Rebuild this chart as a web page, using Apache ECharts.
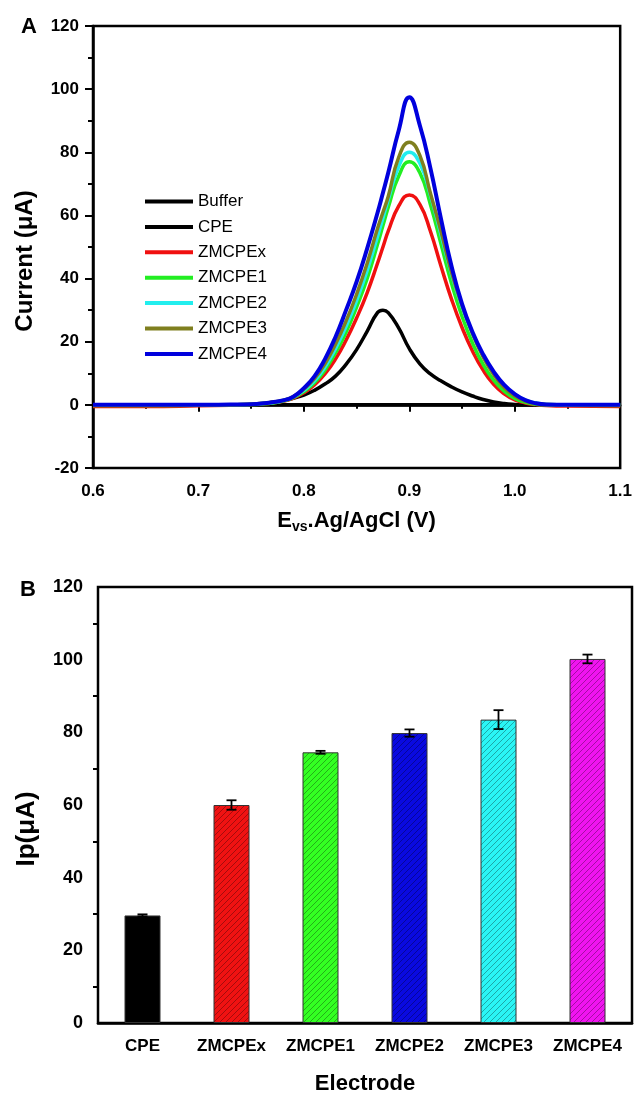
<!DOCTYPE html>
<html>
<head>
<meta charset="utf-8">
<script src="https://cdn.jsdelivr.net/npm/echarts@6/dist/echarts.min.js"></script>
<style>
  html, body { margin: 0; padding: 0; background: #fff; }
  #main { width: 635px; height: 1096px; }
</style>
</head>
<body>
<div id="main"></div>
<script>
// panel A: potential (V) and current (uA)
var potential = [0.60, 0.65, 0.70, 0.73, 0.75, 0.76, 0.77, 0.78, 0.79, 0.80, 0.81, 0.82, 0.83, 0.84, 0.85, 0.86, 0.87, 0.875, 0.88, 0.89, 0.90, 0.91, 0.92, 0.93, 0.94, 0.95, 0.96, 0.97, 0.98, 0.99, 1.00, 1.01, 1.02, 1.03, 1.05, 1.10];
var buffer  = [0, 0, 0, 0, 0, 0, 0, 0, 0, 0, 0, 0, 0, 0, 0, 0, 0, 0, 0, 0, 0, 0, 0, 0, 0, 0, 0, 0, 0, 0, 0, 0, 0, 0, 0, 0];
var cpe     = [0, 0, 0, 0, 0.2, 0.4, 0.8, 1.3, 2.1, 3.1, 4.6, 6.6, 9.1, 12.8, 17.5, 23.3, 29.3, 30.0, 29.2, 24.3, 17.8, 13, 9.8, 7.6, 5.7, 4.1, 2.8, 1.7, 0.9, 0.4, 0.15, 0.05, 0, 0, 0, 0];
var zmcpex  = [-0.5, -0.5, -0.3, -0.1, 0.1, 0.3, 0.6, 1.1, 2.1, 3.8, 6.3, 9.8, 14.5, 20.5, 27.5, 35.5, 45, 50, 55, 63, 66.5, 63.5, 55, 44, 33.5, 24.5, 17, 11, 6.5, 3.5, 1.6, 0.6, 0.1, -0.2, -0.4, -0.5];
var zmcpe1  = [-0.2, -0.2, -0.1, 0, 0.1, 0.3, 0.6, 1.2, 2.3, 4.2, 7, 11, 16.5, 23, 31, 40, 51, 56.8, 62.5, 72.5, 77, 73.5, 63.5, 51, 38.5, 28, 19.5, 12.8, 7.8, 4.3, 2, 0.8, 0.2, 0, -0.1, -0.2];
var zmcpe2  = [0, 0, 0, 0, 0.2, 0.4, 0.7, 1.3, 2.5, 4.6, 7.6, 12, 17.8, 24.8, 33, 42.5, 53.5, 59.2, 65, 75.5, 80, 76.5, 66.5, 54, 41.5, 31, 22.5, 15.5, 10.2, 6.1, 3.3, 1.5, 0.6, 0.15, 0, 0];
var zmcpe3  = [0, 0, 0, 0, 0.2, 0.4, 0.8, 1.4, 2.6, 5, 8.3, 13, 19.2, 26.5, 35, 44.8, 56, 61, 66, 78.5, 83.2, 79, 67, 55, 42, 31.5, 22.5, 15.2, 9.6, 5.5, 2.8, 1.2, 0.4, 0.1, 0, 0];
var zmcpe4  = [0, 0, 0, 0.1, 0.2, 0.4, 0.8, 1.4, 2.6, 5.3, 9, 14.5, 21.5, 30, 39, 49.5, 61, 67.2, 73.5, 87, 97.4, 88.5, 75, 59, 44, 32, 23, 16, 10.5, 6.3, 3.4, 1.5, 0.5, 0.1, 0, 0];

var curveNames = ['Buffer', 'CPE', 'ZMCPEx', 'ZMCPE1', 'ZMCPE2', 'ZMCPE3', 'ZMCPE4'];
var curveValues = [buffer, cpe, zmcpex, zmcpe1, zmcpe2, zmcpe3, zmcpe4];
var curveColors = ['#000000', '#000000', '#f01010', '#22ee22', '#22eeee', '#7f7f1f', '#0000dd'];

// panel B: peak current per electrode
var electrodes  = ['CPE', 'ZMCPEx', 'ZMCPE1', 'ZMCPE2', 'ZMCPE3', 'ZMCPE4'];
var peakCurrent = [29.6, 60.0, 74.5, 79.8, 83.5, 100.2];
var peakError   = [0.3, 1.3, 0.4, 1.0, 2.6, 1.2];
var barColors   = ['#000000', '#f01212', '#33ff22', '#0a0ae0', '#2af5f5', '#f014f0'];

var FONT = '"Liberation Sans", Arial, sans-serif';

// diagonal hatch fill like the original bars
function hatch(color) {
    var s = 6;
    var c = document.createElement('canvas');
    c.width = s; c.height = s;
    var ctx = c.getContext('2d');
    ctx.fillStyle = color;
    ctx.fillRect(0, 0, s, s);
    ctx.strokeStyle = 'rgba(0,0,0,0.45)';
    ctx.lineWidth = 0.7;
    ctx.beginPath();
    ctx.moveTo(0, s); ctx.lineTo(s, 0);
    ctx.moveTo(-1, 1); ctx.lineTo(1, -1);
    ctx.moveTo(s - 1, s + 1); ctx.lineTo(s + 1, s - 1);
    ctx.stroke();
    return { image: c, repeat: 'repeat' };
}

var myChart = echarts.init(document.getElementById('main'), null, { renderer: 'canvas' });

var tickLabel = { color: '#000', fontWeight: 'bold', fontFamily: FONT };
var axisLineStyle = { lineStyle: { color: '#000', width: 2.5 } };

var lineSeries = curveNames.map(function (name, i) {
    return {
        name: name,
        type: 'line',
        xAxisIndex: 0,
        yAxisIndex: 0,
        showSymbol: false,
        symbol: 'none',
        smooth: 0.5,
        clip: true,
        z: 2 + i,
        lineStyle: { color: curveColors[i], width: i === 6 ? 4 : 3.5 },
        itemStyle: { color: curveColors[i] },
        data: potential.map(function (v, k) { return [v, curveValues[i][k]]; })
    };
});

var barData = electrodes.map(function (name, i) {
    return {
        value: peakCurrent[i],
        itemStyle: { color: hatch(barColors[i]), borderColor: '#333', borderWidth: 1 }
    };
});

var errorData = electrodes.map(function (name, i) {
    return [i, peakCurrent[i] - peakError[i], peakCurrent[i] + peakError[i]];
});

var option = {
    animation: false,
    backgroundColor: '#fff',
    textStyle: { fontFamily: FONT },
    legend: {
        data: curveNames.map(function (n, i) { return { name: n, itemStyle: { color: curveColors[i] } }; }),
        icon: 'rect',
        orient: 'vertical',
        left: 145,
        top: 193,
        padding: 0,
        itemWidth: 48,
        itemHeight: 4,
        itemGap: 8.4,
        textStyle: { fontSize: 17, color: '#000', fontFamily: FONT, lineHeight: 16 }
    },
    grid: [
        { left: 93, right: 13, top: 26, height: 442, show: true, borderColor: '#000', borderWidth: 2.5 },
        { left: 98, right: 3, top: 587, height: 446, show: true, borderColor: '#000', borderWidth: 2.5 }
    ],
    xAxis: [{
        gridIndex: 0,
        type: 'value',
        min: 0.6,
        max: 1.1,
        interval: 0.1,
        axisLine: axisLineStyle,
        axisTick: { inside: false, length: 7, lineStyle: { width: 2, color: '#000' } },
        minorTick: { show: true, splitNumber: 2, length: 4, lineStyle: { width: 2, color: '#000' } },
        splitLine: { show: false },
        axisLabel: Object.assign({ fontSize: 17, margin: 15, formatter: function (v) { return v.toFixed(1); } }, tickLabel),
        name: '{a|E}{b|vs}{a|.Ag/AgCl (V)}',
        nameLocation: 'middle',
        nameGap: 40,
        nameTextStyle: {
            rich: {
                a: { fontSize: 22, fontWeight: 'bold', color: '#000', fontFamily: FONT, lineHeight: 26 },
                b: { fontSize: 14, fontWeight: 'bold', color: '#000', fontFamily: FONT, lineHeight: 14, verticalAlign: 'bottom' }
            }
        }
    }, {
        gridIndex: 1,
        type: 'category',
        data: electrodes,
        axisLine: axisLineStyle,
        axisTick: { alignWithLabel: true, inside: false, length: 8, lineStyle: { width: 2, color: '#000' } },
        splitLine: { show: false },
        axisLabel: Object.assign({ fontSize: 17, margin: 15, interval: 0 }, tickLabel),
        name: 'Electrode',
        nameLocation: 'middle',
        nameGap: 50,
        nameTextStyle: { fontSize: 22, fontWeight: 'bold', color: '#000', fontFamily: FONT }
    }],
    yAxis: [{
        gridIndex: 0,
        type: 'value',
        min: -20,
        max: 120,
        interval: 20,
        axisLine: axisLineStyle,
        axisTick: { inside: false, length: 8, lineStyle: { width: 2, color: '#000' } },
        minorTick: { show: true, splitNumber: 2, length: 5, lineStyle: { width: 2, color: '#000' } },
        splitLine: { show: false },
        axisLabel: Object.assign({ fontSize: 17, margin: 14 }, tickLabel)
    }, {
        gridIndex: 1,
        type: 'value',
        min: 0,
        max: 120,
        interval: 20,
        axisLine: axisLineStyle,
        axisTick: { inside: false, length: 9, lineStyle: { width: 2, color: '#000' } },
        minorTick: { show: true, splitNumber: 2, length: 5, lineStyle: { width: 2, color: '#000' } },
        splitLine: { show: false },
        axisLabel: Object.assign({ fontSize: 18, margin: 15 }, tickLabel)
    }],
    graphic: [
        { type: 'text', x: 29, y: 27, style: { text: 'A', font: 'bold 22px ' + FONT, fill: '#000', textAlign: 'center', textVerticalAlign: 'middle' } },
        { type: 'text', x: 28, y: 590, style: { text: 'B', font: 'bold 22px ' + FONT, fill: '#000', textAlign: 'center', textVerticalAlign: 'middle' } },
        { type: 'text', x: 25, y: 261, rotation: Math.PI / 2, style: { text: 'Current (μA)', font: 'bold 24px ' + FONT, fill: '#000', textAlign: 'center', textVerticalAlign: 'middle' } },
        { type: 'text', x: 27, y: 829, rotation: Math.PI / 2, style: { text: 'Ip(μA)', font: 'bold 26px ' + FONT, fill: '#000', textAlign: 'center', textVerticalAlign: 'middle' } }
    ],
    series: lineSeries.concat([{
        name: 'Ip',
        type: 'bar',
        xAxisIndex: 1,
        yAxisIndex: 1,
        barWidth: 36,
        data: barData,
        z: 2
    }, {
        name: 'err',
        type: 'custom',
        xAxisIndex: 1,
        yAxisIndex: 1,
        z: 5,
        encode: { x: 0, y: [1, 2] },
        data: errorData,
        renderItem: function (params, api) {
            var lo = api.coord([api.value(0), api.value(1)]);
            var hi = api.coord([api.value(0), api.value(2)]);
            var w = 5;
            var st = { stroke: '#000', lineWidth: 1.8 };
            return {
                type: 'group',
                children: [
                    { type: 'line', shape: { x1: lo[0], y1: lo[1], x2: hi[0], y2: hi[1] }, style: st },
                    { type: 'line', shape: { x1: lo[0] - w, y1: lo[1], x2: lo[0] + w, y2: lo[1] }, style: st },
                    { type: 'line', shape: { x1: hi[0] - w, y1: hi[1], x2: hi[0] + w, y2: hi[1] }, style: st }
                ]
            };
        }
    }])
};

myChart.setOption(option);
</script>
</body>
</html>
